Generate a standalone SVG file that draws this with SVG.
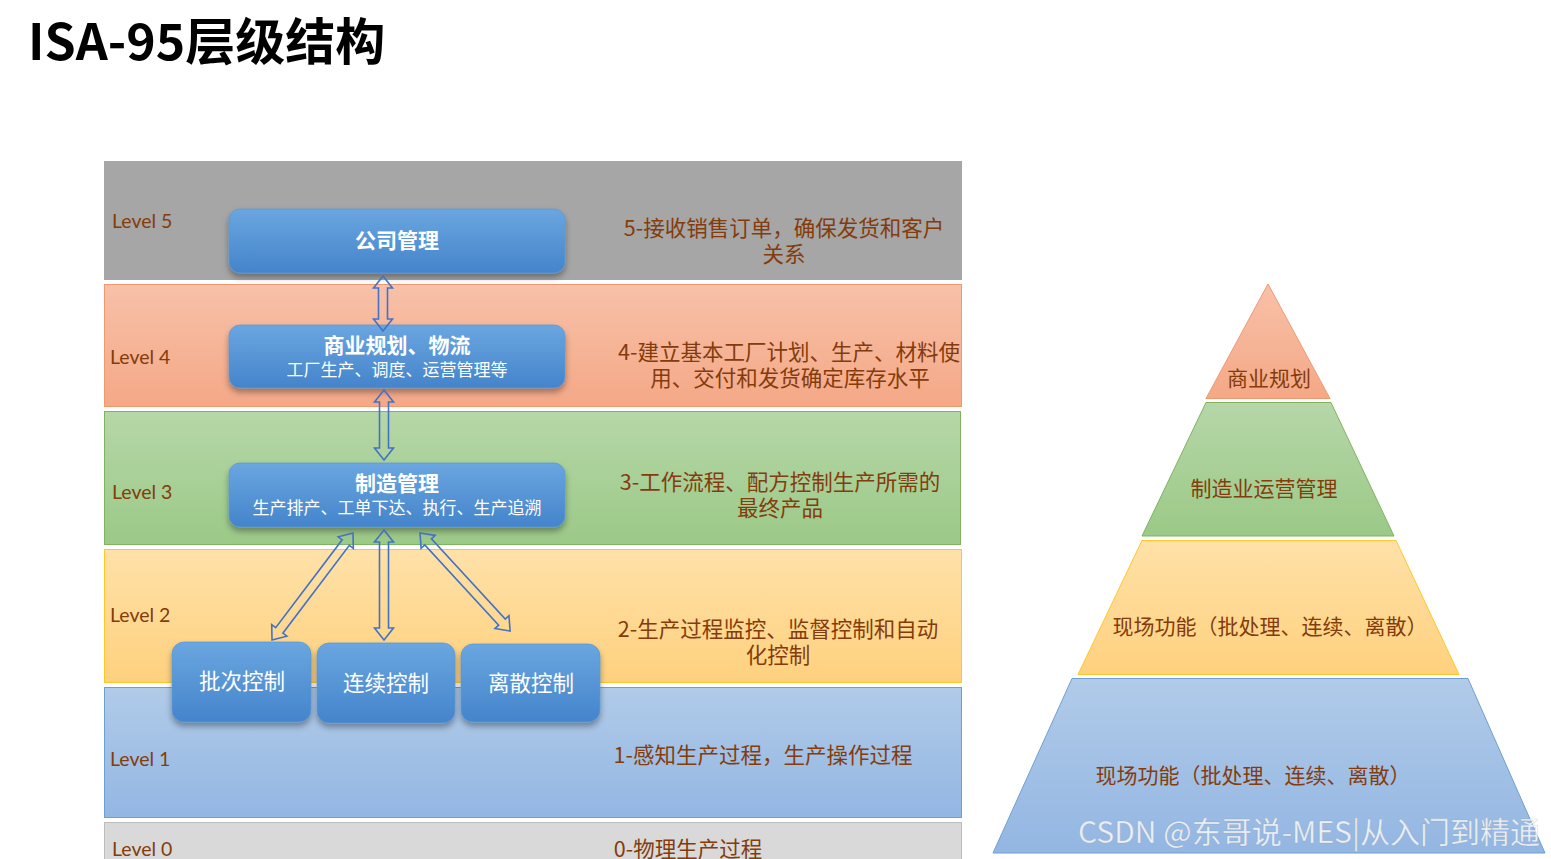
<svg xmlns="http://www.w3.org/2000/svg" width="1551" height="859" viewBox="0 0 1551 859">
<defs>
<style>
.cjk{font-family:"Noto Sans CJK SC","Noto Sans",sans-serif}
.lvl{font-family:Lato,"Liberation Sans",sans-serif;font-size:19.5px;fill:#843c0c}
.desc{font-family:"Noto Sans CJK SC",sans-serif;font-size:21.5px;fill:#843c0c;text-anchor:middle}
.btitle{font-family:"Noto Sans CJK SC",sans-serif;font-size:21px;font-weight:bold;fill:#ffffff;text-anchor:middle}
.bsub{font-family:"Noto Sans CJK SC",sans-serif;font-size:17px;fill:#ffffff;text-anchor:middle}
.bsmall{font-family:"Noto Sans CJK SC",sans-serif;font-size:21.5px;fill:#ffffff;text-anchor:middle}
.pyr{font-family:"Noto Sans CJK SC",sans-serif;font-size:21px;fill:#843c0c;text-anchor:middle}
.box{fill:url(#gBox);stroke:#5b9bd5;stroke-width:0.8;filter:url(#shadow)}
.arr{fill:none;stroke:#4472c4;stroke-width:1.6;stroke-linejoin:miter}
</style>
<linearGradient id="gBox" x1="0" y1="0" x2="0" y2="1"><stop offset="0" stop-color="#6aa6e0"/><stop offset="1" stop-color="#4484cb"/></linearGradient>
<linearGradient id="g4" x1="0" y1="0" x2="0" y2="1"><stop offset="0" stop-color="#f8c1a9"/><stop offset="1" stop-color="#f4a886"/></linearGradient>
<linearGradient id="g3" x1="0" y1="0" x2="0" y2="1"><stop offset="0" stop-color="#b6d7a8"/><stop offset="1" stop-color="#9bc987"/></linearGradient>
<linearGradient id="g2" x1="0" y1="0" x2="0" y2="1"><stop offset="0" stop-color="#ffe1a8"/><stop offset="1" stop-color="#fed17e"/></linearGradient>
<linearGradient id="g1" x1="0" y1="0" x2="0" y2="1"><stop offset="0" stop-color="#b1cbe9"/><stop offset="1" stop-color="#93b6e2"/></linearGradient>
<filter id="shadow" x="-10%" y="-20%" width="120%" height="150%">
<feDropShadow dx="0" dy="4" stdDeviation="3" flood-color="#000" flood-opacity="0.35"/>
</filter>
</defs>
<rect width="1551" height="859" fill="#ffffff"/>
<text x="28" y="60" class="cjk" font-size="50" font-weight="bold" fill="#000">ISA-95层级结构</text>

<g id="bands">
<g id="level5"><rect x="104" y="161" width="858" height="119" fill="#a6a6a6"/>
<text x="112" y="228" class="lvl">Level 5</text>
<text x="784" y="236" class="desc">5-接收销售订单，确保发货和客户</text>
<text x="784" y="262" class="desc">关系</text></g>
<g id="level4"><rect x="104.5" y="284.5" width="857" height="122" fill="url(#g4)" stroke="#f0996f" stroke-width="1"/>
<text x="110" y="364" class="lvl">Level 4</text>
<text x="789" y="360" class="desc">4-建立基本工厂计划、生产、材料使</text>
<text x="790" y="386" class="desc">用、交付和发货确定库存水平</text></g>
<g id="level3"><rect x="104.5" y="411.5" width="856" height="133" fill="url(#g3)" stroke="#7fb360" stroke-width="1"/>
<text x="112" y="499" class="lvl">Level 3</text>
<text x="780" y="490" class="desc">3-工作流程、配方控制生产所需的</text>
<text x="780" y="516" class="desc">最终产品</text></g>
<g id="level2"><rect x="104.5" y="549.5" width="857" height="133" fill="url(#g2)" stroke="#ffc727" stroke-width="1"/>
<text x="110" y="622" class="lvl">Level 2</text>
<text x="778" y="637" class="desc">2-生产过程监控、监督控制和自动</text>
<text x="778" y="663" class="desc">化控制</text></g>
<g id="level1"><rect x="104.5" y="687.5" width="857" height="130" fill="url(#g1)" stroke="#6e9fd3" stroke-width="1"/>
<text x="110" y="766" class="lvl">Level 1</text>
<text x="763" y="763" class="desc">1-感知生产过程，生产操作过程</text></g>
<g id="level0"><rect x="104.5" y="822.5" width="857" height="50" fill="#d9d9d9" stroke="#bdbdbd" stroke-width="1"/>
<text x="112" y="856" class="lvl">Level 0</text>
<text x="688" y="857" class="desc">0-物理生产过程</text></g>
</g>

<g id="node-company"><rect class="box" x="229" y="209" width="336" height="64" rx="11"/>
<text x="397" y="248" class="btitle">公司管理</text></g>
<g id="node-business"><rect class="box" x="229" y="325" width="336" height="63" rx="11"/>
<text x="397" y="353" class="btitle">商业规划、物流</text>
<text x="397" y="376" class="bsub">工厂生产、调度、运营管理等</text></g>
<g id="node-manufacturing"><rect class="box" x="229" y="463" width="336" height="64" rx="11"/>
<text x="397" y="491" class="btitle">制造管理</text>
<text x="397" y="514" class="bsub">生产排产、工单下达、执行、生产追溯</text></g>
<g id="node-batch"><rect class="box" x="172" y="642" width="139" height="80" rx="12"/>
<text x="242" y="689" class="bsmall">批次控制</text></g>
<g id="node-continuous"><rect class="box" x="317" y="643" width="138" height="80" rx="12"/>
<text x="386" y="691" class="bsmall">连续控制</text></g>
<g id="node-discrete"><rect class="box" x="461" y="644" width="139" height="78" rx="12"/>
<text x="531" y="691" class="bsmall">离散控制</text></g>

<g id="connectors">
<polygon class="arr" transform="translate(383,276) rotate(90)" points="0,0 12,-9.5 12,-4.5 43,-4.5 43,-9.5 55,0 43,9.5 43,4.5 12,4.5 12,9.5"/>
<polygon class="arr" transform="translate(384,390) rotate(90)" points="0,0 12,-9.5 12,-4.5 58,-4.5 58,-9.5 70,0 58,9.5 58,4.5 12,4.5 12,9.5"/>
<polygon class="arr" transform="translate(384,530) rotate(90)" points="0,0 12,-9.5 12,-4.5 98,-4.5 98,-9.5 110,0 98,9.5 98,4.5 12,4.5 12,9.5"/>
<polygon class="arr" transform="translate(353,533) rotate(127.1)" points="0,0 12,-9.5 12,-4.5 122.2,-4.5 122.2,-9.5 134.2,0 122.2,9.5 122.2,4.5 12,4.5 12,9.5"/>
<polygon class="arr" transform="translate(420,533) rotate(47.4)" points="0,0 12,-9.5 12,-4.5 121.1,-4.5 121.1,-9.5 133.1,0 121.1,9.5 121.1,4.5 12,4.5 12,9.5"/>
</g>

<g id="pyramid">
<g id="pyr-top"><polygon points="1268,284 1330,398.5 1206,398.5" fill="url(#g4)" stroke="#f0996f" stroke-width="1"/>
<text x="1269" y="386" class="pyr">商业规划</text></g>
<g id="pyr-green"><polygon points="1206,402.5 1331,402.5 1394,536 1142,536" fill="url(#g3)" stroke="#7fb360" stroke-width="1"/>
<text x="1264" y="496" class="pyr">制造业运营管理</text></g>
<g id="pyr-yellow"><polygon points="1142,540.5 1396,540.5 1459,674.5 1078,674.5" fill="url(#g2)" stroke="#ffc727" stroke-width="1"/>
<text x="1270" y="634" class="pyr">现场功能（批处理、连续、离散）</text></g>
<g id="pyr-blue"><polygon points="1072,678.5 1468,678.5 1545,853 993,853" fill="url(#g1)" stroke="#6e9fd3" stroke-width="1"/>
<text x="1253" y="783" class="pyr">现场功能（批处理、连续、离散）</text></g>
</g>

<text x="1078" y="843" class="cjk" font-size="30" fill="#ffffff" fill-opacity="0.8" stroke="#8a8a8a" stroke-opacity="0.35" stroke-width="0.6">CSDN @东哥说-MES|从入门到精通</text>
</svg>
